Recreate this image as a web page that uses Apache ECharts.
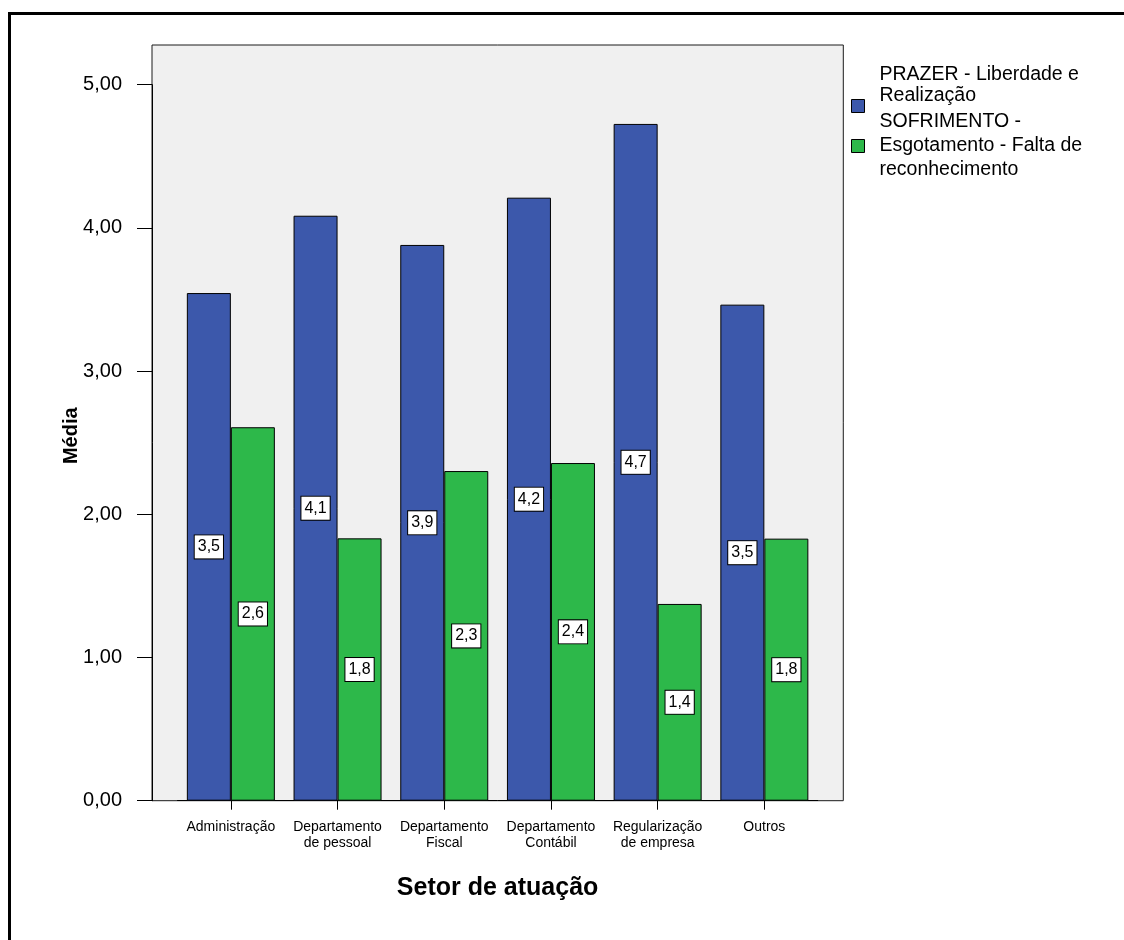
<!DOCTYPE html>
<html>
<head>
<meta charset="utf-8">
<script src="https://cdn.jsdelivr.net/npm/echarts@6/dist/echarts.min.js"></script>
<style>
  html, body { margin: 0; padding: 0; background: #fff; }
  #chart { width: 1124px; height: 940px; }
</style>
</head>
<body>
<div id="chart"></div>
<script>
// Sectors on the x axis
const categories = [
  'Administração',
  'Departamento\nde pessoal',
  'Departamento\nFiscal',
  'Departamento\nContábil',
  'Regularização\nde empresa',
  'Outros'
];

// Mean scores per sector
const prazerValues = [3.545, 4.085, 3.881, 4.211, 4.726, 3.464];
const sofrimentoValues = [2.608, 1.832, 2.302, 2.358, 1.374, 1.830];

const seriesNames = [
  'PRAZER - Liberdade e Realização',
  'SOFRIMENTO - Esgotamento - Falta de reconhecimento'
];
// Wrapped legend text (blank lines keep the swatch below the first line)
const legendLines = {
  'PRAZER - Liberdade e Realização': 'PRAZER - Liberdade e\nRealização\n\n',
  'SOFRIMENTO - Esgotamento - Falta de reconhecimento': 'SOFRIMENTO -\nEsgotamento - Falta de\nreconhecimento'
};

const yTicks = [0, 1, 2, 3, 4, 5];

const FONT = 'Arial, "Liberation Sans", sans-serif';
const BLUE = '#3C58AB';
const GREEN = '#2DB84A';

const comma = (v, d) => Number(v).toFixed(d).replace('.', ',');

const valueLabel = {
  show: true,
  position: 'inside',
  formatter: p => comma(p.value, 1),
  color: '#000',
  fontFamily: FONT,
  fontSize: 16,
  backgroundColor: '#fff',
  borderColor: '#000',
  borderWidth: 1,
  padding: [4, 3, 3, 3]
};

const legendBase = {
  orient: 'vertical',
  left: 851,
  padding: 0,
  itemWidth: 13, itemHeight: 13,
  icon: 'rect',
  itemStyle: { borderColor: '#000', borderWidth: 1 },
  formatter: n => legendLines[n],
  selectedMode: false
};

const chart = echarts.init(document.getElementById('chart'), null, { renderer: 'canvas' });

chart.setOption({
  animation: false,
  backgroundColor: '#fff',
  textStyle: { fontFamily: FONT },
  graphic: [{
    type: 'rect',
    shape: { x: 9.5, y: 13.5, width: 1300, height: 1100 },
    style: { fill: 'none', stroke: '#000', lineWidth: 3 },
    silent: true
  }],
  grid: [
    // plot frame
    { show: true, left: 152, right: 280.7, top: 45, bottom: 139.3,
      backgroundColor: '#F0F0F0', borderColor: '#1a1a1a', borderWidth: 1 },
    // data area
    { left: 177.5, right: 306.3, top: 84.7, bottom: 139.3 }
  ],
  legend: [
    Object.assign({}, legendBase, {
      data: [seriesNames[0]],
      top: 64,
      textStyle: { fontFamily: FONT, fontSize: 19.5, color: '#000', lineHeight: 21, padding: [0, 0, 0, 10] }
    }),
    Object.assign({}, legendBase, {
      data: [seriesNames[1]],
      top: 110,
      textStyle: { fontFamily: FONT, fontSize: 19.5, color: '#000', lineHeight: 24, padding: [0, 0, 0, 10] }
    })
  ],
  xAxis: [{
    gridIndex: 1,
    type: 'category',
    data: categories,
    boundaryGap: true,
    name: 'Setor de atuação',
    nameLocation: 'middle',
    nameGap: 75,
    nameMoveOverlap: false,
    nameTextStyle: { fontFamily: FONT, fontSize: 25, fontWeight: 'bold', color: '#000' },
    axisLine: { show: true, lineStyle: { color: '#000', width: 1 } },
    axisTick: { show: true, alignWithLabel: true, length: 9, lineStyle: { color: '#000' } },
    axisLabel: { interval: 0, margin: 18, fontFamily: FONT, fontSize: 14, lineHeight: 16, color: '#000' },
    splitLine: { show: false }
  }],
  yAxis: [{
    gridIndex: 1,
    type: 'value',
    min: 0, max: 5, interval: 1,
    offset: 25.5,
    name: 'Média',
    nameLocation: 'middle',
    nameGap: 71,
    nameRotate: 90,
    nameMoveOverlap: false,
    nameTextStyle: { fontFamily: FONT, fontSize: 20, fontWeight: 'bold', color: '#000', padding: [0, 0, 0, 14] },
    axisLine: { show: true, lineStyle: { color: '#000', width: 1 } },
    axisTick: { show: true, length: 15, lineStyle: { color: '#000' }, customValues: yTicks },
    axisLabel: { margin: 30, fontFamily: FONT, fontSize: 20, color: '#000',
                 formatter: v => comma(v, 2), customValues: yTicks },
    splitLine: { show: false }
  }],
  series: [
    {
      name: seriesNames[0],
      type: 'bar',
      xAxisIndex: 0, yAxisIndex: 0,
      data: prazerValues,
      barWidth: 44,
      barGap: '0%',
      itemStyle: { color: BLUE, borderColor: '#000', borderWidth: 1 },
      label: valueLabel
    },
    {
      name: seriesNames[1],
      type: 'bar',
      xAxisIndex: 0, yAxisIndex: 0,
      data: sofrimentoValues,
      barWidth: 44,
      barGap: '0%',
      itemStyle: { color: GREEN, borderColor: '#000', borderWidth: 1 },
      label: valueLabel
    }
  ]
});
</script>
</body>
</html>
